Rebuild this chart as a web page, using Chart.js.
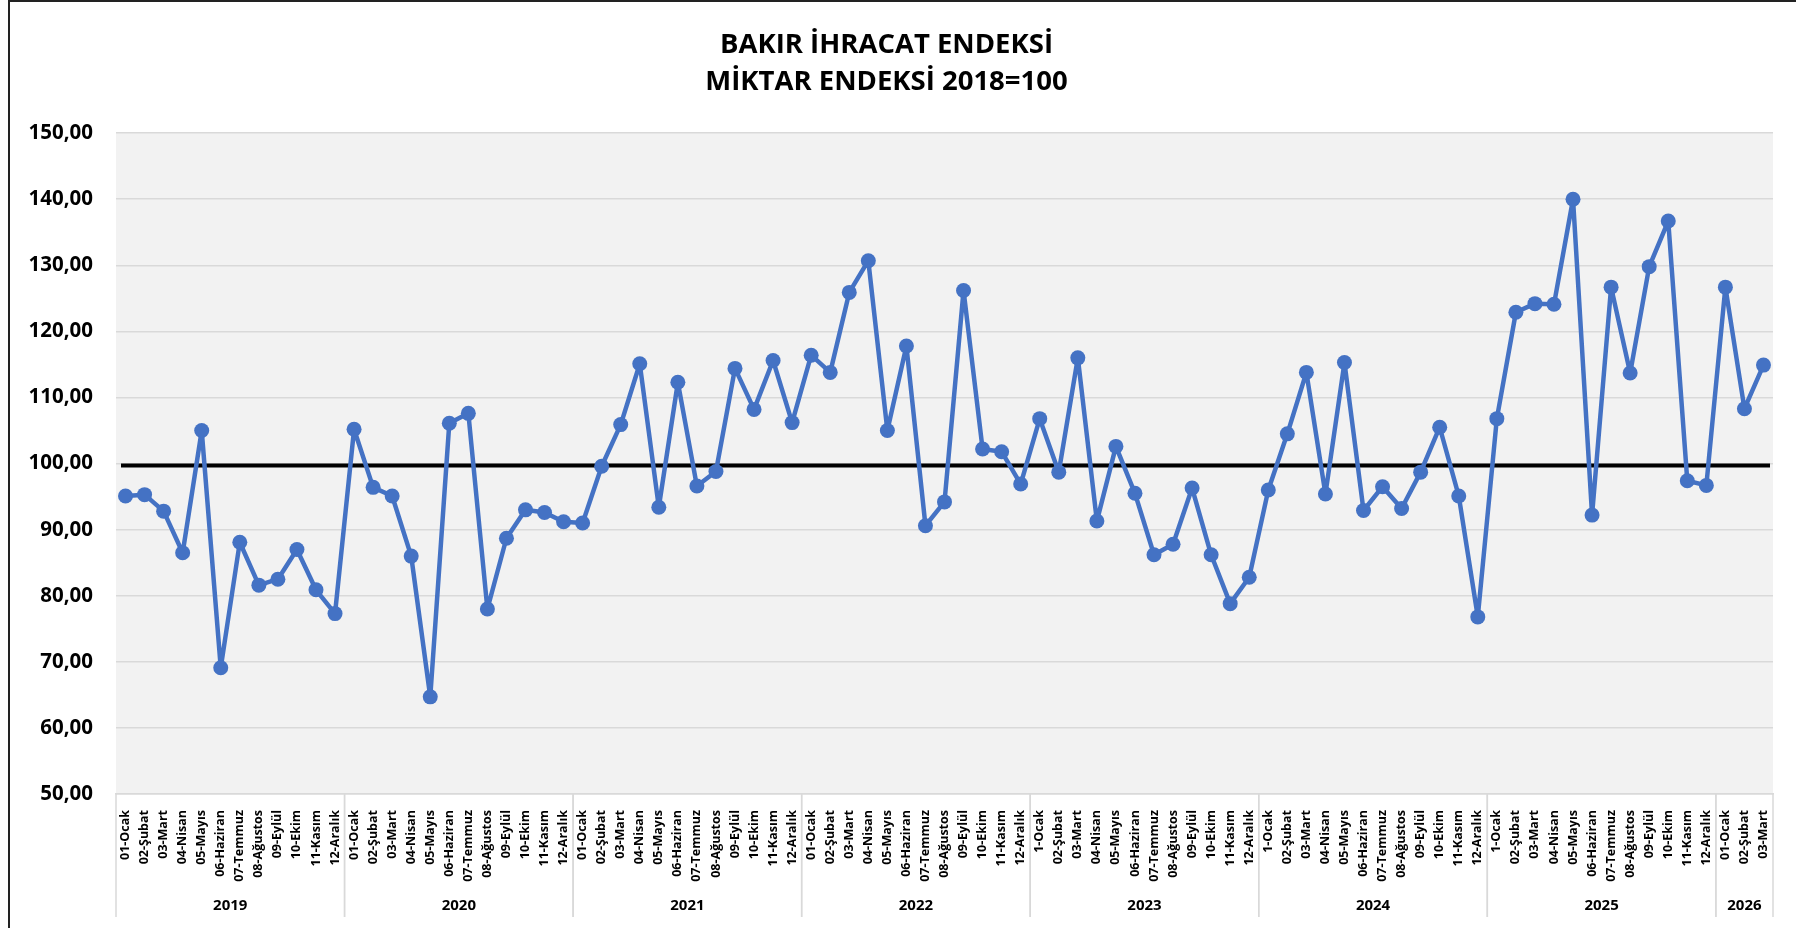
<!DOCTYPE html>
<html lang="tr">
<head>
<meta charset="UTF-8">
<title>Bakır İhracat Endeksi</title>
<script src="https://cdn.jsdelivr.net/npm/chart.js"></script>
<style>
  body {
    margin: 0;
    background: #fff;
  }

  .wrap {
    position: relative;
    width: 1796px;
    height: 928px;
  }

  .frame {
    position: absolute;
    left: 8px;
    top: 0;
    width: 1796px;
    height: 940px;
    border-left: 2px solid #222;
    border-top: 2px solid #222;
    pointer-events: none;
  }
</style>
</head>
<body>

<div class="wrap">
  <canvas id="chart"></canvas>
  <div class="frame"></div>
</div>

<script>
const months = ["01-Ocak", "02-Şubat", "03-Mart", "04-Nisan", "05-Mayıs", "06-Haziran",
  "07-Temmuz", "08-Ağustos", "09-Eylül", "10-Ekim", "11-Kasım", "12-Aralık"];
const years = ["2019", "2020", "2021", "2022", "2023", "2024", "2025", "2026"];
const monthsInYear = [12, 12, 12, 12, 12, 12, 12, 3];
// some years are written "1-Ocak" in the source sheet
const januaryLabel = ["01-Ocak", "01-Ocak", "01-Ocak", "01-Ocak", "1-Ocak", "1-Ocak", "1-Ocak", "01-Ocak"];

const exportIndex = [
  95.1, 95.3, 92.8, 86.5, 105.0, 69.1, 88.1, 81.6, 82.5, 87.0, 80.9, 77.3,      // 2019
  105.2, 96.4, 95.1, 86.0, 64.7, 106.1, 107.6, 78.0, 88.7, 93.0, 92.6, 91.2,    // 2020
  91.0, 99.6, 105.9, 115.1, 93.4, 112.3, 96.6, 98.8, 114.4, 108.2, 115.6, 106.2, // 2021
  116.4, 113.8, 125.9, 130.7, 105.0, 117.8, 90.6, 94.2, 126.2, 102.2, 101.8, 96.9, // 2022
  106.8, 98.7, 116.0, 91.3, 102.6, 95.5, 86.2, 87.8, 96.3, 86.2, 78.8, 82.8,    // 2023
  96.0, 104.5, 113.8, 95.4, 115.3, 92.9, 96.5, 93.2, 98.7, 105.5, 95.1, 76.8,   // 2024
  106.8, 122.9, 124.2, 124.1, 140.0, 92.2, 126.7, 113.7, 129.8, 136.7, 97.4, 96.7, // 2025
  126.7, 108.3, 114.9                                                            // 2026
];

const referenceLevel = 99.7;

const labels = [];
years.forEach((y, yi) => {
  for (let m = 0; m < monthsInYear[yi]; m++) {
    labels.push(m === 0 ? januaryLabel[yi] : months[m]);
  }
});

const plotBackground = {
  id: "plotBackground",
  beforeDraw(chart) {
    const { ctx, chartArea: a } = chart;
    ctx.save();
    ctx.fillStyle = "#f2f2f2";
    ctx.fillRect(a.left, a.top, a.right - a.left, a.bottom - a.top);
    ctx.restore();
  }
};

const baseLine = {
  id: "baseLine",
  beforeDatasetsDraw(chart) {
    const { ctx, chartArea: a, scales } = chart;
    const y = scales.y.getPixelForValue(referenceLevel);
    ctx.save();
    ctx.strokeStyle = "#000";
    ctx.lineWidth = 4;
    ctx.beginPath();
    ctx.moveTo(a.left + 5, y);
    ctx.lineTo(a.right - 3, y);
    ctx.stroke();
    ctx.restore();
  }
};

const yearAxis = {
  id: "yearAxis",
  afterDraw(chart) {
    const { ctx, chartArea: a, scales } = chart;
    const x = scales.x;
    const half = (x.getPixelForValue(1) - x.getPixelForValue(0)) / 2;
    ctx.save();
    ctx.strokeStyle = "#d9d9d9";
    ctx.lineWidth = 1.5;
    ctx.fillStyle = "#000";
    ctx.font = "bold 15px 'Open Sans'";
    ctx.textAlign = "center";
    ctx.textBaseline = "middle";
    let start = 0;
    years.forEach((y, yi) => {
      const end = start + monthsInYear[yi];
      const x0 = x.getPixelForValue(start) - half;
      const x1 = x.getPixelForValue(end - 1) + half;
      ctx.beginPath();
      ctx.moveTo(x0, a.bottom);
      ctx.lineTo(x0, 917);
      ctx.moveTo(x1, a.bottom);
      ctx.lineTo(x1, 917);
      ctx.stroke();
      ctx.fillText(y, (x0 + x1) / 2, 906);
      start = end;
    });
    ctx.restore();
  }
};

new Chart(document.getElementById("chart"), {
  type: "line",
  data: {
    labels: labels,
    datasets: [{
      data: exportIndex,
      borderColor: "#4472c4",
      backgroundColor: "#4472c4",
      borderWidth: 4.5,
      borderJoinStyle: "round",
      borderCapStyle: "round",
      pointRadius: 7.5,
      pointBorderWidth: 0,
      tension: 0
    }]
  },
  options: {
    responsive: true,
    maintainAspectRatio: false,
    animation: false,
    layout: { padding: { left: 0, right: 23, top: 0, bottom: 0 } },
    plugins: {
      legend: { display: false },
      tooltip: { enabled: false },
      title: {
        display: true,
        text: ["BAKIR İHRACAT ENDEKSİ", "MİKTAR ENDEKSİ 2018=100"],
        color: "#000",
        font: { family: "'Open Sans'", size: 27.5, weight: "bold", lineHeight: 1.33 },
        padding: { top: 27, bottom: 33 }
      }
    },
    scales: {
      x: {
        offset: true,
        grid: { display: false },
        border: { display: true, color: "#d9d9d9", width: 1.5 },
        ticks: {
          autoSkip: false,
          minRotation: 90,
          maxRotation: 90,
          padding: 8,
          color: "#000",
          font: { family: "'Open Sans'", size: 12.5, weight: "bold" }
        },
        afterFit(scale) { scale.height = 134; }
      },
      y: {
        min: 50,
        max: 150,
        grid: { color: "#d9d9d9", lineWidth: 1.5, drawTicks: false },
        border: { display: false },
        ticks: {
          stepSize: 10,
          padding: 23,
          color: "#000",
          font: { family: "'Open Sans'", size: 20.5, weight: "bold" },
          callback: v => v.toFixed(2).replace(".", ",")
        },
        afterFit(scale) { scale.width = 116; }
      }
    }
  },
  plugins: [plotBackground, baseLine, yearAxis]
});
</script>

</body>
</html>
